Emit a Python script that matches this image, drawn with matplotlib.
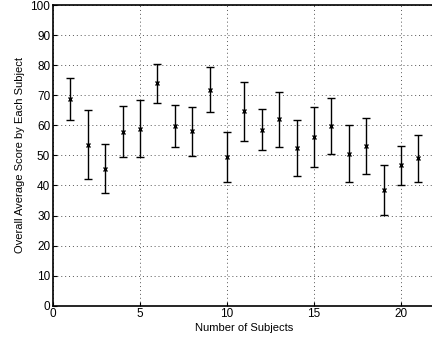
import numpy as np
import matplotlib
matplotlib.use("Agg")
import matplotlib.pyplot as plt

# Average score per subject with error bar half-widths
subjects = np.arange(1, 22)
mean_score = [68.7, 53.6, 45.6, 57.8, 58.9, 73.9, 59.7, 58.0, 71.9, 49.6,
              64.6, 58.5, 62.0, 52.3, 56.0, 59.8, 50.5, 53.0, 38.5, 46.7, 49.0]
err = [7.0, 11.5, 8.2, 8.5, 9.5, 6.6, 7.0, 8.2, 7.6, 8.3,
       9.8, 6.8, 9.2, 9.3, 10.0, 9.2, 9.5, 9.3, 8.4, 6.4, 7.9]

plt.rcParams['font.family'] = ['Liberation Sans', 'DejaVu Sans']
plt.rcParams['font.size'] = 8

fig = plt.figure(figsize=(4.32, 3.43), dpi=100)
ax = fig.add_axes([0.1227, 0.1087, 0.8861, 0.8767])

ax.errorbar(subjects, mean_score, yerr=err, fmt='x', color='black',
            ecolor='black', elinewidth=1.0, capsize=3, capthick=1.0,
            markersize=3.5, markeredgewidth=1.0)

ax.set_xlim(0, 22)
ax.set_ylim(0, 100)
ax.set_xticks([0, 5, 10, 15, 20])
ax.set_yticks(range(0, 101, 10))
ax.grid(True, linestyle=(0, (1, 3)), color='#555555', linewidth=0.7)
ax.tick_params(direction='in', length=3, width=0.8, labelsize=8.5, pad=2)
for s in ax.spines.values():
    s.set_linewidth(1.2)

ax.set_xlabel("Number of Subjects", fontsize=8, labelpad=2)
ax.set_ylabel("Overall Average Score by Each Subject", fontsize=8, labelpad=4)

fig.savefig("out.png", dpi=100)
